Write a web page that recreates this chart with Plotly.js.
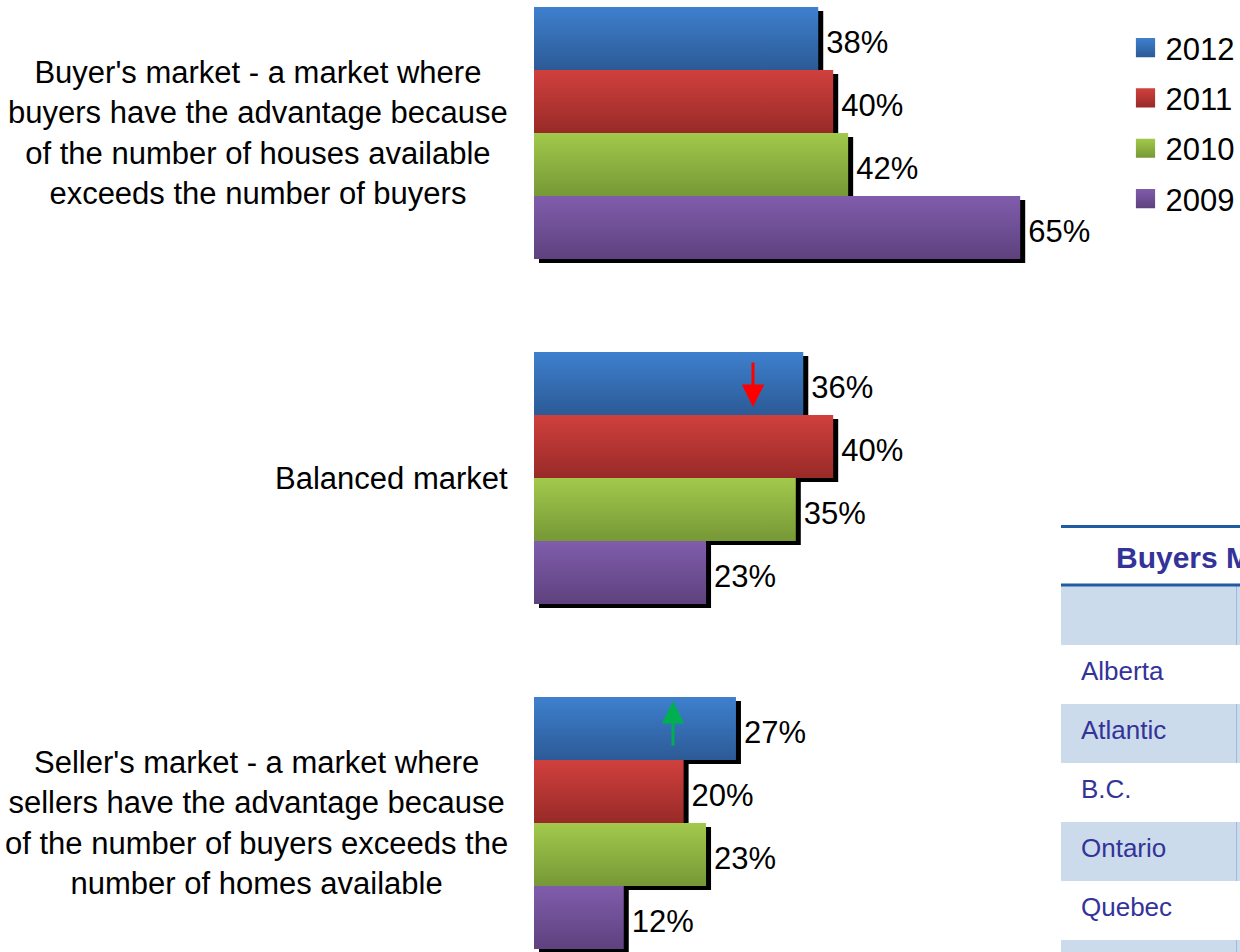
<!DOCTYPE html>
<html>
<head>
<meta charset="utf-8">
<script src="https://cdn.plot.ly/plotly-3.0.1.min.js"></script>
<style>
html,body{margin:0;padding:0;overflow:hidden;background:#ffffff;}
#chart{width:1240px;height:952px;}
</style>
</head>
<body>
<div id="chart"></div>
<script>
// ---------------- DATA ----------------
const categories = [
  "Buyer's market - a market where<br>buyers have the advantage because<br>of the number of houses available<br>exceeds the number of buyers",
  "Balanced market",
  "Seller's market - a market where<br>sellers have the advantage because<br>of the number of buyers exceeds the<br>number of homes available"
];
const years = ["2012", "2011", "2010", "2009"];
const v2012 = [38, 36, 27];
const v2011 = [40, 40, 20];
const v2010 = [42, 35, 23];
const v2009 = [65, 23, 12];
const seriesValues = [v2012, v2011, v2010, v2009];
const tableTitle = "Buyers Market";
const tableRows = ["Alberta", "Atlantic", "B.C.", "Ontario", "Quebec", ""];

// ---------------- STYLE / GEOMETRY ----------------
const FONT = "Liberation Sans, Arial, sans-serif";
const W = 1240, H = 952, ML = 534;
const plotW = W - ML;
const pxPerPct = 7.48;
const pxPerCat = 345;
const topVal = -0.3855;
const shDx = 5, shDy = 4;
const gradStops = [
  ["#3E80CE", "#2C5A96"],
  ["#D0403D", "#982A28"],
  ["#A2C94C", "#769836"],
  ["#805DAC", "#5E417E"]
];
const midColors = ["#3569B2", "#B53532", "#8DB041", "#6F4F95"];

const px2x = p => (p - ML) / plotW;
const py2y = p => 1 - p / H;

const traces = [];
// shadow bars (drawn underneath, on shifted axes)
seriesValues.forEach((vals, i) => {
  traces.push({
    type: "bar", orientation: "h",
    x: vals, y: categories,
    xaxis: "x", yaxis: "y",
    name: years[i], legendgroup: "g" + years[i], showlegend: false,
    marker: {color: "#000000", line: {width: 0}},
    text: vals.map(v => v + "%"),
    textposition: "outside",
    textfont: {family: FONT, size: 31, color: "#000000"},
    constraintext: "none",
    cliponaxis: false,
    hoverinfo: "skip"
  });
});
// main bars
seriesValues.forEach((vals, i) => {
  traces.push({
    type: "bar", orientation: "h",
    x: vals, y: categories,
    xaxis: "x2", yaxis: "y2",
    name: years[i], legendgroup: "g" + years[i], showlegend: true,
    marker: {color: midColors[i], line: {width: 0}},
    hoverinfo: "skip"
  });
});

const hiddenAxis = {visible: false, showgrid: false, zeroline: false, fixedrange: true};

const annotations = [];
categories.forEach((c, i) => {
  annotations.push({
    xref: "paper", yref: "y2", x: px2x(510), y: i,
    xanchor: "right", yanchor: "middle", align: "center",
    text: c, showarrow: false,
    font: {family: FONT, size: 31, color: "#000000"}
  });
});
// trend arrows
annotations.push({
  xref: "x2", yref: "y2", x: (753 - ML) / pxPerPct, y: 407 / pxPerCat + topVal,
  ax: 0, ay: -46, text: "", showarrow: true,
  arrowhead: 2, arrowsize: 1.5, arrowwidth: 3, arrowcolor: "#FF0000", standoff: 0
});
annotations.push({
  xref: "x2", yref: "y2", x: (673 - ML) / pxPerPct, y: 701 / pxPerCat + topVal,
  ax: 0, ay: 46, text: "", showarrow: true,
  arrowhead: 2, arrowsize: 1.5, arrowwidth: 3, arrowcolor: "#00B050", standoff: 0
});
// table text
annotations.push({
  xref: "paper", yref: "paper", x: px2x(1114), y: py2y(557),
  xanchor: "left", yanchor: "middle", text: "<b>" + tableTitle + "</b>", showarrow: false,
  font: {family: FONT, size: 30, color: "#333399"}
});
const rowTop = 645, rowH = 59;
tableRows.forEach((r, i) => {
  if (!r) return;
  annotations.push({
    xref: "paper", yref: "paper", x: px2x(1079), y: py2y(rowTop + rowH * i + rowH / 2 - 4),
    xanchor: "left", yanchor: "middle", text: r, showarrow: false,
    font: {family: FONT, size: 26, color: "#333399"}
  });
});

const shapes = [];
const tblL = px2x(1061), tblR = px2x(1245);
shapes.push({type: "rect", xref: "paper", yref: "paper", x0: tblL, x1: tblR, y0: py2y(586), y1: py2y(645), fillcolor: "#CCDBEB", line: {width: 0}, layer: "below"});
tableRows.forEach((r, i) => {
  if (i % 2 === 1) {
    const t = rowTop + rowH * i, b = Math.min(rowTop + rowH * (i + 1), H + 5);
    shapes.push({type: "rect", xref: "paper", yref: "paper", x0: tblL, x1: tblR, y0: py2y(t), y1: py2y(b), fillcolor: "#CCDBEB", line: {width: 0}, layer: "below"});
    shapes.push({type: "line", xref: "paper", yref: "paper", x0: px2x(1236.5), x1: px2x(1236.5), y0: py2y(t), y1: py2y(b), line: {color: "#9DB9DC", width: 1}, layer: "below"});
  }
});
shapes.push({type: "line", xref: "paper", yref: "paper", x0: px2x(1236.5), x1: px2x(1236.5), y0: py2y(586), y1: py2y(645), line: {color: "#9DB9DC", width: 1}, layer: "below"});
shapes.push({type: "line", xref: "paper", yref: "paper", x0: tblL, x1: tblR, y0: py2y(526.5), y1: py2y(526.5), line: {color: "#1F5CA0", width: 3}});
shapes.push({type: "line", xref: "paper", yref: "paper", x0: tblL, x1: tblR, y0: py2y(585), y1: py2y(585), line: {color: "#1F5CA0", width: 3}});

const layout = {
  width: W, height: H,
  margin: {l: ML, r: 0, t: 0, b: 0, pad: 0, autoexpand: false},
  paper_bgcolor: "#ffffff", plot_bgcolor: "rgba(0,0,0,0)",
  font: {family: FONT, size: 30, color: "#000000"},
  barmode: "group", bargap: 0.2696, bargroupgap: 0,
  showlegend: true,
  legend: {
    x: px2x(1125.5), xanchor: "left", y: py2y(21), yanchor: "top",
    bgcolor: "rgba(0,0,0,0)", borderwidth: 0,
    font: {family: FONT, size: 31, color: "#000000"},
    traceorder: "grouped", tracegroupgap: 7, itemclick: false, itemdoubleclick: false
  },
  xaxis: Object.assign({}, hiddenAxis, {domain: [shDx / plotW, 1], range: [0, (plotW - shDx) / pxPerPct], anchor: "y"}),
  yaxis: Object.assign({}, hiddenAxis, {type: "category", domain: [0, 1 - shDy / H], range: [topVal + (H - shDy) / pxPerCat, topVal], anchor: "x"}),
  xaxis2: Object.assign({}, hiddenAxis, {domain: [0, 1], range: [0, plotW / pxPerPct], anchor: "y2"}),
  yaxis2: Object.assign({}, hiddenAxis, {type: "category", domain: [0, 1], range: [topVal + H / pxPerCat, topVal], anchor: "x2"}),
  annotations: annotations,
  shapes: shapes
};

function applyGradients(gd) {
  const svgNS = "http://www.w3.org/2000/svg";
  const svg = gd.querySelector("svg.main-svg");
  let defs = svg.querySelector("defs");
  if (!defs) { defs = document.createElementNS(svgNS, "defs"); svg.insertBefore(defs, svg.firstChild); }
  gradStops.forEach((st, i) => {
    const g = document.createElementNS(svgNS, "linearGradient");
    g.setAttribute("id", "barGrad" + i);
    g.setAttribute("x1", "0"); g.setAttribute("y1", "0");
    g.setAttribute("x2", "0"); g.setAttribute("y2", "1");
    [[0, st[0]], [1, st[1]]].forEach(([o, c]) => {
      const s = document.createElementNS(svgNS, "stop");
      s.setAttribute("offset", o); s.setAttribute("stop-color", c);
      g.appendChild(s);
    });
    defs.appendChild(g);
  });
  const mainTraces = gd.querySelectorAll(".subplot.x2y2 .barlayer .trace.bars");
  mainTraces.forEach((t, i) => {
    t.querySelectorAll(".point path").forEach(p => { p.style.fill = "url(#barGrad" + i + ")"; });
  });
  gd.querySelectorAll(".legend .traces").forEach(tr => {
    const txt = tr.querySelector("text.legendtext");
    const idx = txt ? years.indexOf(txt.textContent.trim()) : -1;
    if (idx < 0) return;
    tr.querySelectorAll(".legendpoints path").forEach(p => {
      p.style.fill = "url(#barGrad" + idx + ")";
      const tf = p.getAttribute("transform") || "";
      p.setAttribute("transform", tf + " scale(1.6)");
    });
  });
}

Plotly.newPlot("chart", traces, layout, {staticPlot: true, displayModeBar: false}).then(gd => applyGradients(gd));
</script>
</body>
</html>
